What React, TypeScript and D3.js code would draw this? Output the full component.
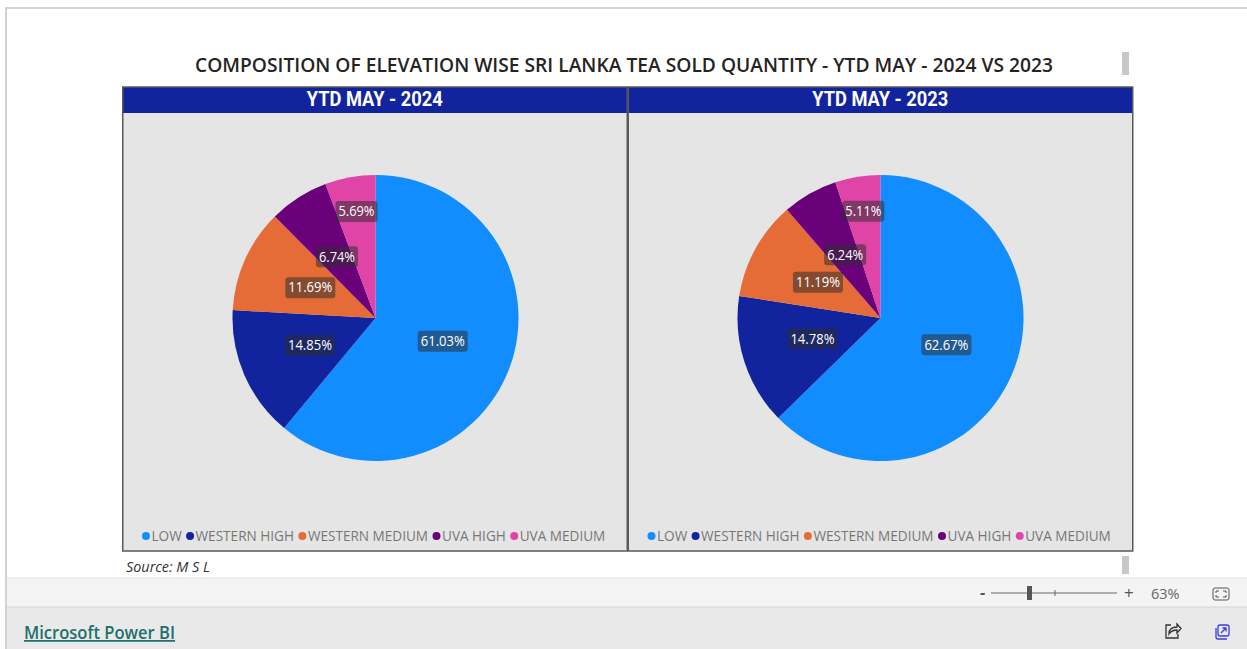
import React, { useEffect, useRef } from "react";
import * as d3 from "d3";

const WIDTH = 1247;
const HEIGHT = 649;

const title = "COMPOSITION OF ELEVATION WISE SRI LANKA TEA SOLD QUANTITY - YTD MAY - 2024 VS 2023";
const categories = ["LOW", "WESTERN HIGH", "WESTERN MEDIUM", "UVA HIGH", "UVA MEDIUM"];
const colors = ["#118DFF", "#12239E", "#E66C37", "#6B007B", "#E044A7"];
const panelTitles = ["YTD MAY - 2024", "YTD MAY - 2023"];
const values2024 = [61.03, 14.85, 11.69, 6.74, 5.69];
const values2023 = [62.67, 14.78, 11.19, 6.24, 5.11];
const panelValues = [values2024, values2023];

const FONT = "'Open Sans', sans-serif";
const panelX = d3.scaleBand<number>().domain([0, 1]).range([122, 1133]);

const color = d3.scaleOrdinal<string, string>().domain(categories).range(colors);

function drawPanel(svg: any, index: number) {
  const x0 = panelX(index) as number;
  const w = panelX.bandwidth();
  const top = 87;
  const bottom = 551;
  const g = svg.append("g").attr("transform", `translate(${x0},0)`);

  g.append("rect")
    .attr("x", 0.75)
    .attr("y", top)
    .attr("width", w - 1)
    .attr("height", bottom - top)
    .attr("fill", "#E5E5E5");

  g.append("rect").attr("x", 0).attr("y", top).attr("width", w).attr("height", 26).attr("fill", "#12239E");

  // frame goes over the header so the divider runs through it
  g.append("rect")
    .attr("x", 0.75)
    .attr("y", top)
    .attr("width", w - 1)
    .attr("height", bottom - top)
    .attr("fill", "none")
    .attr("stroke", "#5a5a5a")
    .attr("stroke-width", 1.5);

  g.append("text")
    .attr("x", w / 2)
    .attr("y", 105.5)
    .attr("text-anchor", "middle")
    .attr("fill", "#fff")
    .attr("font-family", "Roboto, sans-serif")
    .attr("font-weight", 700)
    .attr("font-size", 20)
    .attr("textLength", 136)
    .attr("lengthAdjust", "spacingAndGlyphs")
    .text(panelTitles[index]);

  // pie
  const radius = 143;
  const cx = index === 0 ? 253.5 : 253;
  const pie = d3.pie<number>().sort(null).startAngle(0).endAngle(2 * Math.PI);
  const arc = d3.arc<any>().innerRadius(0).outerRadius(radius);
  // the last small slice has its label pushed outwards, clear of its neighbour
  const outerArc = d3.arc<any>().innerRadius(radius / 2).outerRadius(radius);
  const arcs = pie(panelValues[index]);
  const pieG = g.append("g").attr("transform", `translate(${cx},318)`);

  pieG.selectAll("path")
    .data(arcs)
    .join("path")
    .attr("d", arc)
    .attr("fill", (_d: any, i: number) => color(categories[i]));

  arcs.forEach((d, i) => {
    const [lx, ly] = i === arcs.length - 1 ? outerArc.centroid(d) : arc.centroid(d);
    const label = pieG.append("g").attr("transform", `translate(${lx},${ly - 1})`);
    const chip = label.append("rect").attr("fill", "rgba(45,45,45,0.53)").attr("rx", 3);
    const txt = label.append("text")
      .attr("text-anchor", "middle")
      .attr("y", 4.8)
      .attr("fill", "#fff")
      .attr("font-family", FONT)
      .attr("font-size", 14)
      .attr("textLength", d.data >= 10 ? 44 : 36)
      .attr("lengthAdjust", "spacingAndGlyphs")
      .text(d.data.toFixed(2) + "%");
    const tw = (txt.node() as SVGTextElement).getComputedTextLength();
    chip.attr("x", -(tw + 6) / 2).attr("y", -10.5).attr("width", tw + 6).attr("height", 21);
  });

  // legend, laid out from the measured label widths
  let x = 24;
  categories.forEach(name => {
    g.append("circle").attr("cx", x).attr("cy", 536).attr("r", 4).attr("fill", color(name));
    const t = g.append("text")
      .attr("x", x + 5.5)
      .attr("y", 541)
      .attr("fill", "#777")
      .attr("font-family", FONT)
      .attr("font-size", 14)
      .text(name);
    const tw = (t.node() as SVGTextElement).getComputedTextLength() * 0.97;
    t.attr("textLength", tw).attr("lengthAdjust", "spacingAndGlyphs");
    x += 5.5 + tw + 8.4;
  });
}

function drawChrome(svg: any) {
  // outer frame
  svg.append("rect").attr("x", 5).attr("y", 7).attr("width", WIDTH).attr("height", 2).attr("fill", "#d2d2d2");
  svg.append("rect").attr("x", 5).attr("y", 7).attr("width", 2).attr("height", HEIGHT).attr("fill", "#d2d2d2");

  // status and footer bars
  svg.append("rect").attr("x", 7).attr("y", 578).attr("width", WIDTH).attr("height", 29).attr("fill", "#f4f4f4");
  svg.append("rect").attr("x", 7).attr("y", 607).attr("width", WIDTH).attr("height", 42).attr("fill", "#e9e9e9");
  svg.append("line").attr("x1", 7).attr("x2", WIDTH).attr("y1", 578).attr("y2", 578).attr("stroke", "#e2e2e2");
  svg.append("line").attr("x1", 7).attr("x2", WIDTH).attr("y1", 607).attr("y2", 607).attr("stroke", "#d6d6d6");

  // scroll grips
  svg.append("rect").attr("x", 1122).attr("y", 52).attr("width", 7).attr("height", 23).attr("fill", "#c8c8c8");
  svg.append("rect").attr("x", 1122).attr("y", 556).attr("width", 7).attr("height", 18).attr("fill", "#c8c8c8");

  svg.append("text")
    .attr("x", 126)
    .attr("y", 572)
    .attr("font-family", FONT)
    .attr("font-style", "italic")
    .attr("font-size", 14.5)
    .attr("fill", "#333")
    .attr("textLength", 84)
    .attr("lengthAdjust", "spacingAndGlyphs")
    .text("Source: M S L");

  svg.append("text")
    .attr("x", 24)
    .attr("y", 639)
    .attr("font-family", FONT)
    .attr("font-weight", 600)
    .attr("font-size", 17.5)
    .attr("fill", "#21706B")
    .attr("text-decoration", "underline")
    .attr("textLength", 151)
    .attr("lengthAdjust", "spacingAndGlyphs")
    .text("Microsoft Power BI");

  // zoom slider
  const zoomG = svg.append("g").attr("font-family", FONT).attr("fill", "#555");
  zoomG.append("text").attr("x", 980).attr("y", 598).attr("font-size", 16).attr("font-weight", 700).text("-");
  zoomG.append("line").attr("x1", 991).attr("x2", 1117).attr("y1", 593).attr("y2", 593).attr("stroke", "#666");
  zoomG.append("line").attr("x1", 1055).attr("x2", 1055).attr("y1", 590).attr("y2", 596).attr("stroke", "#666");
  zoomG.append("rect").attr("x", 1027).attr("y", 586).attr("width", 5).attr("height", 14).attr("fill", "#555");
  zoomG.append("text").attr("x", 1124).attr("y", 599).attr("font-size", 17).text("+");
  zoomG.append("text").attr("x", 1151).attr("y", 599).attr("font-size", 14.5).attr("fill", "#666").text("63%");

  // fit to page icon
  zoomG.append("rect").attr("x", 1213).attr("y", 588).attr("width", 16).attr("height", 12).attr("rx", 2)
    .attr("fill", "none").attr("stroke", "#555");
  zoomG.append("path").attr("d", "M1216 593v-2h3M1226 593v-2h-3M1216 595v2h3M1226 595v2h-3")
    .attr("fill", "none").attr("stroke", "#555");

  // share icon
  zoomG.append("path")
    .attr("d", "M1171 625h-5v13h12v-4M1169 634c0-5 3-7 8-7v-3l4 4.500-4 4.500v-3c-4 0-6 1-8 4z")
    .attr("fill", "none").attr("stroke", "#333").attr("stroke-width", 1.3);

  // open in new tab icon
  zoomG.append("rect").attr("x", 1218).attr("y", 625).attr("width", 11).attr("height", 11).attr("rx", 2)
    .attr("fill", "none").attr("stroke", "#3b3bdc").attr("stroke-width", 1.3);
  zoomG.append("path").attr("d", "M1216 628v9a2 2 0 0 0 2 2h9M1221 633l5-5M1222.500 628h3.500v3.500")
    .attr("fill", "none").attr("stroke", "#3b3bdc").attr("stroke-width", 1.3);
}

export default function App() {
  const ref = useRef<SVGSVGElement>(null);

  useEffect(() => {
    const svg = d3.select(ref.current);
    svg.selectAll("*").remove();

    svg.append("rect").attr("width", WIDTH).attr("height", HEIGHT).attr("fill", "#fff");
    drawChrome(svg);

    svg.append("text")
      .attr("x", 195)
      .attr("y", 71.500)
      .attr("font-family", FONT)
      .attr("font-weight", 600)
      .attr("font-size", 19.5)
      .attr("fill", "#252423")
      .attr("textLength", 858)
      .attr("lengthAdjust", "spacingAndGlyphs")
      .text(title);

    panelTitles.forEach((_t, i) => drawPanel(svg, i));
  }, []);

  return (
    <svg
      ref={ref}
      width={WIDTH}
      height={HEIGHT}
      style={{ position: "absolute", left: 0, top: 0, display: "block" }}
    />
  );
}
